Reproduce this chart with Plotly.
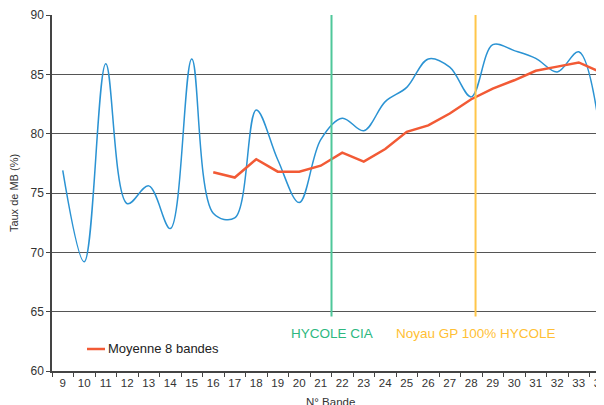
import plotly.graph_objects as go

bandes = list(range(9, 35))
taux_mb = [76.9, 69.2, 85.9, 74.1, 75.6, 72.0, 86.3, 73.3, 72.9, 82.0, 77.8, 74.2, 79.5,
           81.3, 80.25, 82.7, 83.9, 86.3, 85.6, 83.1, 87.5, 87.0, 86.35, 85.2, 86.9, 80.0]
bandes_moy = list(range(16, 35))
moyenne_8 = [76.75, 76.3, 77.85, 76.8, 76.8, 77.3, 78.4, 77.65, 78.7, 80.15, 80.7, 81.7,
             82.9, 83.8, 84.5, 85.3, 85.65, 86.0, 85.2]
marker_lines = [21.5, 28.2]
marker_labels = ["HYCOLE CIA", "Noyau GP 100% HYCOLE"]
marker_colors = ["#4fc79a", "#ffc64a"]
marker_text_colors = ["#2db87f", "#ffbf35"]
legend_label = "Moyenne 8 bandes"

FONT = "Liberation Sans, Arial"

fig = go.Figure()
fig.add_trace(go.Scatter(x=bandes, y=taux_mb, mode="lines", showlegend=False,
                         line=dict(color="#2b93d3", width=1.5, shape="spline", smoothing=1.0)))
fig.add_trace(go.Scatter(x=bandes_moy, y=moyenne_8, mode="lines", name=legend_label,
                         showlegend=False, line=dict(color="#f25a35", width=2.5)))

for xv, lab, c, tc in zip(marker_lines, marker_labels, marker_colors, marker_text_colors):
    fig.add_shape(type="line", x0=xv, x1=xv, y0=64.6, y1=90, xref="x", yref="y",
                  line=dict(color=c, width=2), layer="above")
    fig.add_annotation(x=xv, y=63.2, xref="x", yref="y", text=lab, showarrow=False,
                       font=dict(color=tc, size=13.5, family=FONT),
                       xanchor="center", yanchor="middle")

# legend drawn as a line sample + label
fig.add_shape(type="line", xref="paper", yref="paper", x0=0.0626, x1=0.0948,
              y0=0.0618, y1=0.0618, line=dict(color="#f25a35", width=2.5))
fig.add_annotation(x=0.0966, y=0.0618, xref="paper", yref="paper", text=legend_label,
                   showarrow=False, xanchor="left", yanchor="middle",
                   font=dict(size=13, color="#222", family=FONT))

fig.add_annotation(x=0.498, xref="paper", y=-0.064, yref="paper", yanchor="top",
                   text="N° Bande", showarrow=False,
                   font=dict(size=11.5, color="#333", family=FONT))

fig.update_layout(
    width=604, height=405,
    margin=dict(l=44, r=1, t=7, b=42),
    plot_bgcolor="white", paper_bgcolor="white",
    font=dict(family=FONT, size=11, color="#333"),
    showlegend=False,
    xaxis=dict(range=[8.5, 34.5], tickmode="array", tickvals=bandes,
               ticktext=[str(b) for b in bandes], ticks="", showgrid=False,
               showline=True, linecolor="#444", linewidth=1.5, zeroline=False,
               automargin=False,
               tickfont=dict(size=11.5, color="#333"),
               minor=dict(ticks="outside", ticklen=4, tickcolor="#444", tick0=8.5, dtick=1,
                          showgrid=False)),
    yaxis=dict(range=[60, 90], tickvals=[60, 65, 70, 75, 80, 85, 90], showgrid=True,
               gridcolor="#555", gridwidth=1, zeroline=False, showline=True,
               linecolor="#444", linewidth=1.5, ticks="outside", ticklen=4,
               tickcolor="#444", tickfont=dict(size=12, color="#333"),
               automargin=False,
               title=dict(text="Taux de MB (%)", font=dict(size=11, color="#333"), standoff=10)),
)

fig.write_html("out.html")
